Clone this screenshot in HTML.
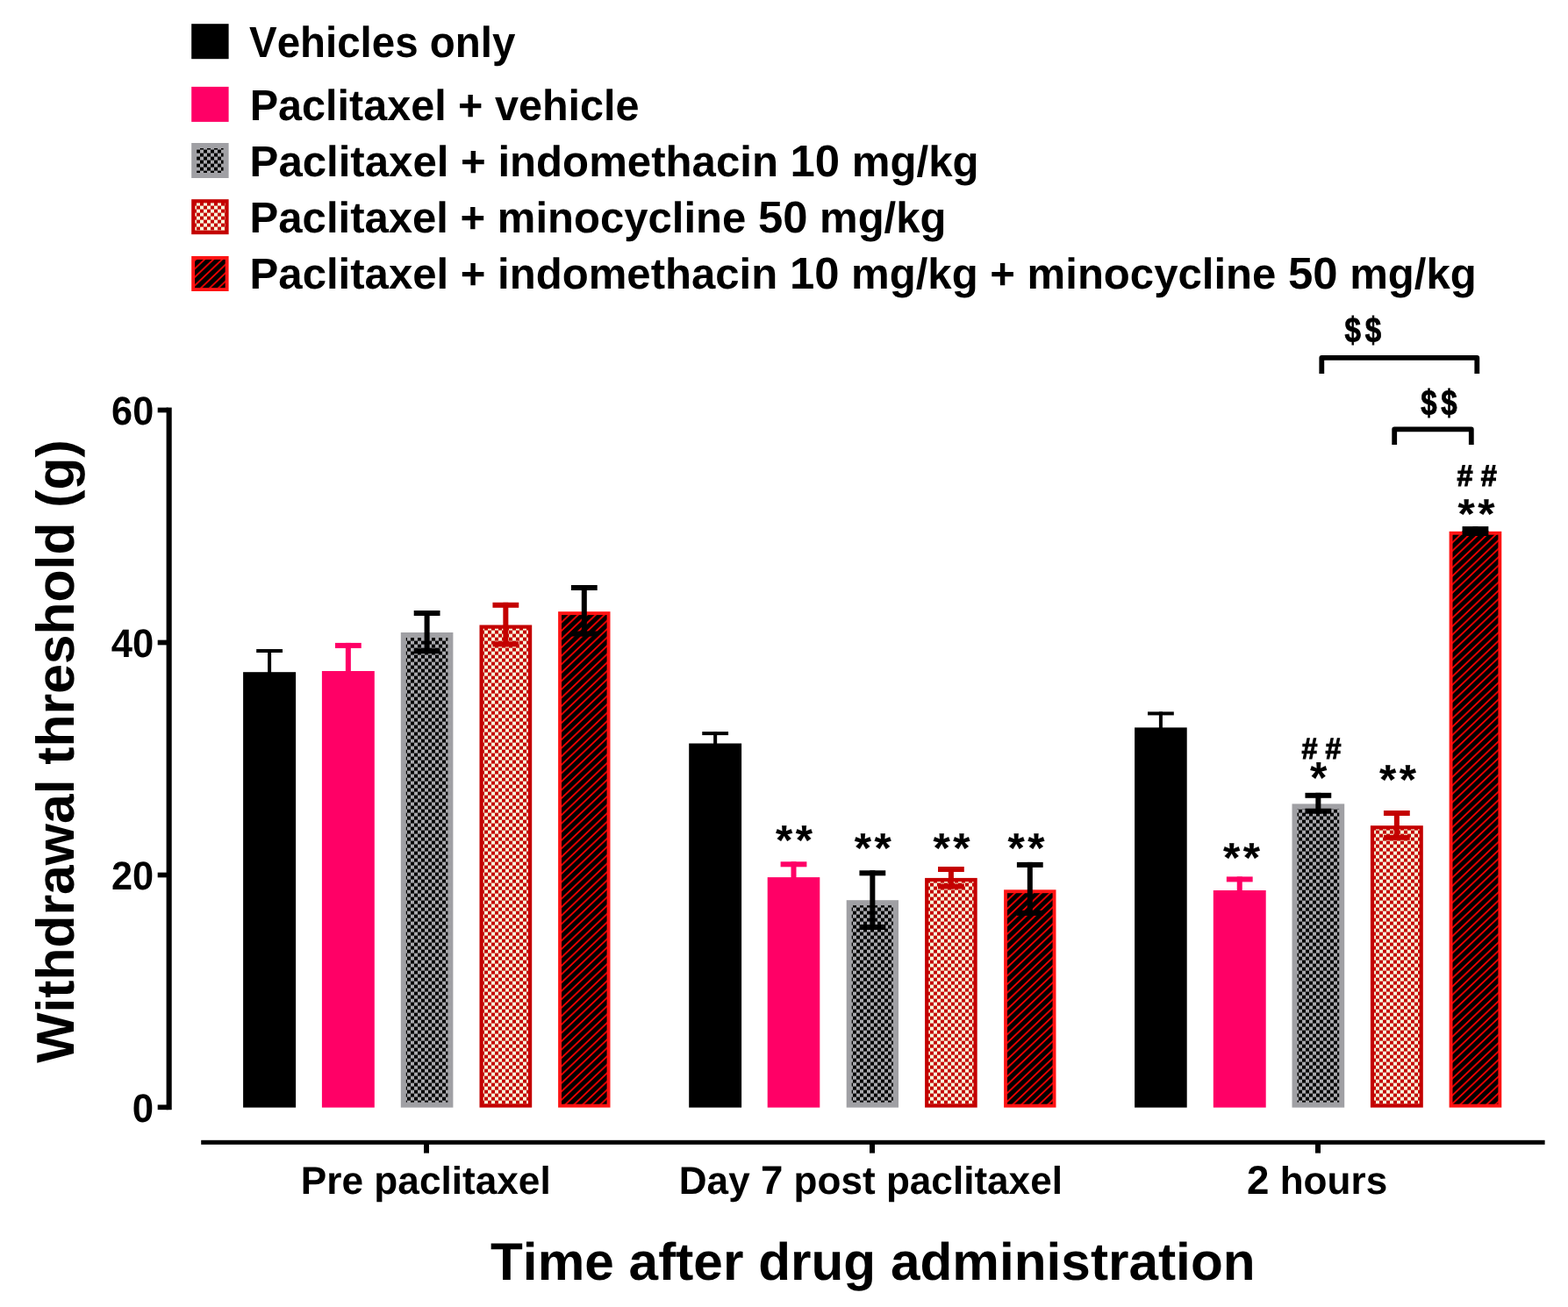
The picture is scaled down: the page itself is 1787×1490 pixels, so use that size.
<!DOCTYPE html>
<html lang="en">
<head>
<meta charset="utf-8">
<title>Withdrawal threshold after drug administration</title>
<style>
html,body{margin:0;padding:0;background:#fff;}
body{width:1787px;height:1490px;overflow:hidden;}
svg{display:block;}
text{font-family:"Liberation Sans", Arial, Helvetica, sans-serif;font-weight:bold;fill:#000;font-kerning:none;text-rendering:geometricPrecision;}
</style>
</head>
<body>
<svg width="1787" height="1490" viewBox="0 0 1787 1490">
<defs>
<pattern id="pg" width="8" height="8" patternUnits="userSpaceOnUse" patternTransform="translate(0 -1.4)">
<rect width="8" height="8" fill="#000"/><rect x="0" y="0" width="4" height="4" fill="#a9a9ad"/><rect x="4" y="4" width="4" height="4" fill="#a9a9ad"/>
</pattern>
<pattern id="pr" width="8" height="8" patternUnits="userSpaceOnUse" patternTransform="translate(0 -1.4)">
<rect width="8" height="8" fill="#c40000"/><rect x="0" y="0" width="4" height="4" fill="#f7fadb"/><rect x="4" y="4" width="4" height="4" fill="#f7fadb"/>
</pattern>
<pattern id="ph" width="10" height="9.55" patternUnits="userSpaceOnUse" patternTransform="translate(0 2.7)">
<rect width="10" height="9.55" fill="#000"/>
<path d="M-5,4.775 L5,-4.775 M0,9.55 L10,0 M5,14.325 L15,4.775" stroke="#ff0000" stroke-width="1.75" fill="none"/>
</pattern>
</defs>
<rect width="1787" height="1490" fill="#fff"/>

<g id="legend">
<rect x="218.2" y="27.2" width="42.4" height="40" fill="#000"/>
<text transform="translate(283.98 65) scale(0.9628 1)" font-size="49.3">Vehicles only</text>
<rect x="218.2" y="98.9" width="42.4" height="40" fill="#ff0066"/>
<text transform="translate(284.65 137) scale(0.9846 1)" font-size="49.3">Paclitaxel + vehicle</text>
<rect x="218.2" y="163" width="42.4" height="40" fill="#a0a0a4"/><rect x="224.2" y="169" width="30.4" height="28" fill="url(#pg)"/>
<text transform="translate(284.61 201.1) scale(0.9970 1)" font-size="49.3">Paclitaxel + indomethacin <tspan font-size="51.03">10</tspan> mg/kg</text>
<rect x="218.2" y="227.2" width="42.4" height="40" fill="#c40000"/><rect x="222.4" y="231.4" width="34" height="31.6" fill="url(#pr)"/>
<text transform="translate(284.62 265.2) scale(0.9949 1)" font-size="49.3">Paclitaxel + minocycline <tspan font-size="51.03">50</tspan> mg/kg</text>
<rect x="218.2" y="292" width="42.4" height="40" fill="#ff1414"/><rect x="222.1" y="295.9" width="34.6" height="32.2" fill="url(#ph)"/>
<text transform="translate(284.62 329.3) scale(0.9959 1)" font-size="49.3">Paclitaxel + indomethacin <tspan font-size="51.03">10</tspan> mg/kg + minocycline <tspan font-size="51.03">50</tspan> mg/kg</text>
</g>
<g id="axes" fill="#000">
<rect x="189.6" y="464.6" width="6.1" height="800.6"/>
<rect x="179.7" y="464.65" width="12" height="5.7"/>
<rect x="179.7" y="729.65" width="12" height="5.7"/>
<rect x="179.7" y="994.65" width="12" height="5.7"/>
<rect x="179.7" y="1259.45" width="12" height="5.7"/>
<rect x="229.2" y="1299.8" width="1531.4" height="5"/>
<rect x="483" y="1300" width="6" height="14.6"/>
<rect x="991" y="1300" width="6" height="14.6"/>
<rect x="1499" y="1300" width="6" height="14.6"/>
</g>
<g id="ticklabels">
<text transform="translate(127.12 483.55) scale(0.9470 1)" font-size="45.62">60</text>
<text transform="translate(126.74 748.55) scale(0.9547 1)" font-size="45.62">40</text>
<text transform="translate(127 1013.55) scale(0.9494 1)" font-size="45.62">20</text>
<text transform="translate(150.87 1278.75) scale(0.9587 1)" font-size="45.62">0</text>
<text transform="translate(342.84 1360.5) scale(0.9973 1)" font-size="44.3">Pre paclitaxel</text>
<text transform="translate(773.75 1360.5) scale(0.9956 1)" font-size="44.3">Day <tspan font-size="45.85">7</tspan> post paclitaxel</text>
<text transform="translate(1421.02 1360.5) scale(0.9958 1)" font-size="44.3"><tspan font-size="45.85">2</tspan> hours</text>
</g>
<g id="titles">
<text transform="translate(84.3 1211.76) rotate(-90) scale(0.9987 1)" font-size="60.7">Withdrawal threshold (g)</text>
<text transform="translate(559.02 1459) scale(1.0024 1)" font-size="60.2">Time after drug administration</text>
</g>
<g id="bars">
<rect x="277.1" y="766.2" width="60" height="496.4" fill="#000"/>
<rect x="366.9" y="765" width="59.9" height="497.6" fill="#ff0066"/>
<rect x="456.8" y="721" width="59.6" height="541.6" fill="#a0a0a4"/><rect x="462.8" y="727" width="47.6" height="529.6" fill="url(#pg)"/>
<rect x="546.5" y="712.5" width="59.7" height="550.1" fill="#c40000"/><rect x="550.7" y="716.7" width="51.3" height="541.7" fill="url(#pr)"/>
<rect x="636.1" y="697.2" width="59.4" height="565.4" fill="#ff1414"/><rect x="640" y="701.1" width="51.6" height="557.6" fill="url(#ph)"/>
<rect x="785.2" y="847.5" width="59.9" height="415.1" fill="#000"/>
<rect x="874.7" y="1000.1" width="59.6" height="262.5" fill="#ff0066"/>
<rect x="964.7" y="1026.2" width="59.3" height="236.4" fill="#a0a0a4"/><rect x="970.7" y="1032.2" width="47.3" height="224.4" fill="url(#pg)"/>
<rect x="1054.1" y="1000.9" width="59.6" height="261.7" fill="#c40000"/><rect x="1058.3" y="1005.1" width="51.2" height="253.3" fill="url(#pr)"/>
<rect x="1144.1" y="1014.3" width="59.4" height="248.3" fill="#ff1414"/><rect x="1148" y="1018.2" width="51.6" height="240.5" fill="url(#ph)"/>
<rect x="1293.1" y="829.4" width="59.6" height="433.2" fill="#000"/>
<rect x="1382.8" y="1015" width="59.9" height="247.6" fill="#ff0066"/>
<rect x="1472.5" y="916.4" width="59.7" height="346.2" fill="#a0a0a4"/><rect x="1478.5" y="922.4" width="47.7" height="334.2" fill="url(#pg)"/>
<rect x="1561.9" y="941.2" width="59.9" height="321.4" fill="#c40000"/><rect x="1566.1" y="945.4" width="51.5" height="313" fill="url(#pr)"/>
<rect x="1651.6" y="605.8" width="59.7" height="656.8" fill="#ff1414"/><rect x="1655.5" y="609.7" width="51.9" height="649" fill="url(#ph)"/>
</g>
<g id="errorbars">
<rect x="292.2" y="740" width="29.8" height="4" fill="#000"/><rect x="305.1" y="740" width="4" height="27.2" fill="#000"/>
<rect x="381.95" y="732.9" width="29.8" height="6" fill="#ff0066"/><rect x="393.85" y="732.9" width="6" height="33.1" fill="#ff0066"/>
<rect x="471.7" y="696" width="29.8" height="6" fill="#000"/><rect x="471.7" y="739.2" width="29.8" height="6" fill="#000"/><rect x="483.6" y="696" width="6" height="49.2" fill="#000"/>
<rect x="561.45" y="686.8" width="29.8" height="6" fill="#c40000"/><rect x="561.45" y="731.3" width="29.8" height="6" fill="#c40000"/><rect x="573.35" y="686.8" width="6" height="50.5" fill="#c40000"/>
<rect x="650.9" y="667" width="29.8" height="6" fill="#000"/><rect x="650.9" y="719.5" width="29.8" height="6" fill="#000"/><rect x="662.8" y="667" width="6" height="58.5" fill="#000"/>
<rect x="800.25" y="834.1" width="29.8" height="4" fill="#000"/><rect x="813.15" y="834.1" width="4" height="14.4" fill="#000"/>
<rect x="889.6" y="982.3" width="29.8" height="6" fill="#ff0066"/><rect x="901.5" y="982.3" width="6" height="18.8" fill="#ff0066"/>
<rect x="979.45" y="992.3" width="29.8" height="6" fill="#000"/><rect x="979.45" y="1054" width="29.8" height="6" fill="#000"/><rect x="991.35" y="992.3" width="6" height="67.7" fill="#000"/>
<rect x="1069" y="988" width="29.8" height="6" fill="#c40000"/><rect x="1069" y="1007.5" width="29.8" height="6" fill="#c40000"/><rect x="1080.9" y="988" width="6" height="25.5" fill="#c40000"/>
<rect x="1158.9" y="982.9" width="29.8" height="6" fill="#000"/><rect x="1158.9" y="1037.9" width="29.8" height="6" fill="#000"/><rect x="1170.8" y="982.9" width="6" height="61" fill="#000"/>
<rect x="1308" y="811.4" width="29.8" height="4" fill="#000"/><rect x="1320.9" y="811.4" width="4" height="19" fill="#000"/>
<rect x="1397.85" y="999.4" width="29.8" height="6" fill="#ff0066"/><rect x="1409.75" y="999.4" width="6" height="16.6" fill="#ff0066"/>
<rect x="1487.45" y="903.8" width="29.8" height="6" fill="#000"/><rect x="1487.45" y="921.7" width="29.8" height="6" fill="#000"/><rect x="1499.35" y="903.8" width="6" height="23.9" fill="#000"/>
<rect x="1576.95" y="924" width="29.8" height="6" fill="#c40000"/><rect x="1576.95" y="951.8" width="29.8" height="6" fill="#c40000"/><rect x="1588.85" y="924" width="6" height="33.8" fill="#c40000"/>
<rect x="1666.55" y="600.1" width="29.8" height="6" fill="#000"/><rect x="1666.55" y="605" width="29.8" height="6" fill="#000"/><rect x="1678.45" y="600.1" width="6" height="10.9" fill="#000"/>
</g>
<g id="annotations">
<text class="sym" transform="translate(883.88 974) scale(1.0365 1)" font-size="47.71" letter-spacing="3.48" stroke="#000" stroke-width="0.15" stroke-linejoin="miter">**</text>
<text class="sym" transform="translate(973.73 982.8) scale(1.0365 1)" font-size="47.71" letter-spacing="3.34" stroke="#000" stroke-width="0.15" stroke-linejoin="miter">**</text>
<text class="sym" transform="translate(1063.43 982.8) scale(1.0365 1)" font-size="47.71" letter-spacing="3.34" stroke="#000" stroke-width="0.15" stroke-linejoin="miter">**</text>
<text class="sym" transform="translate(1148.43 982.8) scale(1.0365 1)" font-size="47.71" letter-spacing="3.34" stroke="#000" stroke-width="0.15" stroke-linejoin="miter">**</text>
<text class="sym" transform="translate(1394.03 993.8) scale(1.0365 1)" font-size="47.71" letter-spacing="3.34" stroke="#000" stroke-width="0.15" stroke-linejoin="miter">**</text>
<text class="sym" transform="translate(1572.03 904.6) scale(1.0365 1)" font-size="47.71" letter-spacing="3.24" stroke="#000" stroke-width="0.15" stroke-linejoin="miter">**</text>
<text class="sym" transform="translate(1661.53 602.41) scale(1.0424 1)" font-size="47.44" letter-spacing="3.41" stroke="#000" stroke-width="0.15" stroke-linejoin="miter">**</text>
<text class="sym" transform="translate(1492.95 904.33) scale(0.9759 1)" font-size="51.07">*</text>
<text class="sym" transform="translate(1483.4 865.25) scale(0.9488 1)" font-size="34.06" letter-spacing="9.51" stroke="#000" stroke-width="1.1" stroke-linejoin="miter">##</text>
<text class="sym" transform="translate(1660.49 554.15) scale(0.9463 1)" font-size="34.35" letter-spacing="9.64" stroke="#000" stroke-width="1.1" stroke-linejoin="miter">##</text>
<text class="sym" transform="translate(1532.51 390.25) scale(0.8187 1)" font-size="40.42" letter-spacing="5.86" stroke="#000" stroke-width="0.9" stroke-linejoin="miter">$$</text>
<text class="sym" transform="translate(1619.31 472.93) scale(0.8138 1)" font-size="40.67" letter-spacing="5.65" stroke="#000" stroke-width="0.9" stroke-linejoin="miter">$$</text>
<path d="M1506.3,426 V407.9 H1683.3 V426" fill="none" stroke="#000" stroke-width="5.8" stroke-linejoin="round"/>
<path d="M1589.2,507.1 V489.3 H1676.8 V507.1" fill="none" stroke="#000" stroke-width="5.8" stroke-linejoin="round"/>
</g>
</svg>
</body>
</html>
